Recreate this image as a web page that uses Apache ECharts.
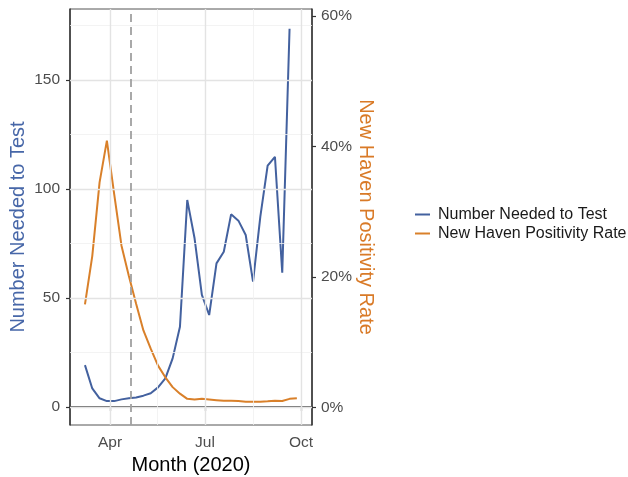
<!DOCTYPE html>
<html>
<head>
<meta charset="utf-8">
<script src="https://cdn.jsdelivr.net/npm/echarts@6/dist/echarts.min.js"></script>
<style>
html,body{margin:0;padding:0;background:#fff;}
#chart{width:628px;height:477px;}
</style>
</head>
<body>
<div id="chart"></div>
<script>
// Weekly dates
var weeks = ['2020-03-08','2020-03-15','2020-03-22','2020-03-29','2020-04-05','2020-04-12','2020-04-19','2020-04-26',
  '2020-05-03','2020-05-10','2020-05-17','2020-05-24','2020-05-31','2020-06-07','2020-06-14','2020-06-21','2020-06-28',
  '2020-07-05','2020-07-12','2020-07-19','2020-07-26','2020-08-02','2020-08-09','2020-08-16','2020-08-23','2020-08-30',
  '2020-09-06','2020-09-13','2020-09-20','2020-09-27'];
// Number needed to test (left axis)
var nntValues = [19.2, 8.5, 4.0, 2.7, 2.7, 3.5, 4.0, 4.4, 5.2, 6.3, 9.0, 13.1, 22.3, 36.8,
  95.0, 77.4, 51.4, 42.2, 65.9, 71.2, 88.4, 85.5, 78.9, 57.5, 87.3, 110.7, 114.8, 61.6, 173.5];
// New Haven positivity rate (right axis, fraction)
var posValues = [0.158, 0.232, 0.345, 0.409, 0.327, 0.248, 0.202, 0.159, 0.118, 0.090, 0.064, 0.046, 0.031, 0.021,
  0.013, 0.012, 0.013, 0.012, 0.011, 0.010, 0.010, 0.0097, 0.0087, 0.0087, 0.0087, 0.0092, 0.010, 0.0097, 0.013, 0.014];
// Ticks and guides
var leftTicks = [0, 50, 100, 150];
var leftMinor = [25, 75, 125, 175];
var rightTicks = [0, 0.2, 0.4, 0.6];
var monthTicks = ['2020-04-01', '2020-07-01', '2020-10-01'];
var monthLabels = ['Apr', 'Jul', 'Oct'];
var monthMinor = ['2020-05-16', '2020-08-16'];
var cutoffDate = '2020-04-21';
var xMinDate = '2020-02-22T16:00:00Z', xMaxDate = '2020-10-11T12:00:00Z';

var BLUE = '#43619f', ORANGE = '#d9802a';
function ts(d) { return Date.parse(d.length === 10 ? d + 'T00:00:00Z' : d); }
var tsTicks = monthTicks.map(ts);

function pairs(vals) { return vals.map(function (v, i) { return [ts(weeks[i]), v]; }); }

var gridMajor = '#e3e3e3', gridMinor = '#f0f0f0';
var guideLines = [];
leftTicks.forEach(function (v) { guideLines.push({ yAxis: v, lineStyle: { color: gridMajor, width: 1.4, type: 'solid' } }); });
leftMinor.forEach(function (v) { guideLines.push({ yAxis: v, lineStyle: { color: gridMinor, width: 0.8, type: 'solid' } }); });
monthTicks.forEach(function (d) { guideLines.push({ xAxis: ts(d), lineStyle: { color: gridMajor, width: 1.4, type: 'solid' } }); });
monthMinor.forEach(function (d) { guideLines.push({ xAxis: ts(d), lineStyle: { color: gridMinor, width: 0.8, type: 'solid' } }); });

var chart = echarts.init(document.getElementById('chart'), null, { renderer: 'canvas' });
var font = 'Liberation Sans, Arial, sans-serif';
chart.setOption({
  animation: false,
  backgroundColor: '#fff',
  textStyle: { fontFamily: font },
  grid: { left: 70, right: 316, top: 9, bottom: 52, containLabel: false, outerBoundsMode: 'none',
    show: true, borderColor: '#555', borderWidth: 1, backgroundColor: '#fff' },
  legend: {
    data: ['Number Needed to Test', 'New Haven Positivity Rate'],
    orient: 'vertical', left: 410, top: 200,
    icon: 'rect', itemWidth: 15, itemHeight: 2, itemGap: 0,
    textStyle: { fontSize: 16, color: '#1a1a1a', fontFamily: font, lineHeight: 19, padding: [0, 0, 0, 3] }
  },
  xAxis: {
    type: 'value',
    min: ts(xMinDate), max: ts(xMaxDate),
    name: 'Month (2020)', nameLocation: 'middle', nameGap: 30,
    nameTextStyle: { fontSize: 20, color: '#000', fontFamily: font },
    axisLine: { show: true, lineStyle: { color: '#333', width: 1.5 } },
    axisTick: { show: true, length: 4, lineStyle: { color: '#333', width: 1.2 }, customValues: tsTicks },
    axisLabel: {
      customValues: tsTicks, margin: 10, fontSize: 15.5, color: '#4d4d4d', fontFamily: font,
      formatter: function (v) { var i = tsTicks.indexOf(+v); return i >= 0 ? monthLabels[i] : ''; }
    },
    splitLine: { show: false }
  },
  yAxis: [{
    type: 'value', position: 'left', min: -8.26, max: 182.6,
    name: 'Number Needed to Test', nameLocation: 'middle', nameGap: 42,
    nameTextStyle: { fontSize: 20, color: '#4767a8', fontFamily: font, padding: [0, 20, 0, 0] },
    axisLine: { show: true, lineStyle: { color: '#333', width: 1.5 } },
    axisTick: { show: true, length: 4, lineStyle: { color: '#333', width: 1.2 }, customValues: leftTicks },
    axisLabel: { customValues: leftTicks, margin: 10, fontSize: 15.5, color: '#4d4d4d', fontFamily: font },
    splitLine: { show: false }
  }, {
    type: 'value', position: 'right', min: -0.0271, max: 0.611,
    name: 'New Haven Positivity Rate', nameLocation: 'middle', nameGap: 43, nameRotate: -90,
    nameTextStyle: { fontSize: 20, color: '#d97a27', fontFamily: font },
    axisLine: { show: true, lineStyle: { color: '#333', width: 1.5 } },
    axisTick: { show: true, length: 4, lineStyle: { color: '#333', width: 1.2 }, customValues: rightTicks },
    axisLabel: {
      customValues: rightTicks, margin: 9, fontSize: 15.5, color: '#4d4d4d', fontFamily: font,
      formatter: function (v) { return Math.round(v * 100) + '%'; }
    },
    splitLine: { show: false }
  }],
  series: [{
    name: 'guides', type: 'line', z: 0, silent: true, yAxisIndex: 0,
    data: pairs(nntValues), showSymbol: false, lineStyle: { opacity: 0 },
    markLine: { silent: true, symbol: 'none', label: { show: false }, animation: false, data: guideLines }
  }, {
    name: 'Number Needed to Test', type: 'line', yAxisIndex: 0, z: 3,
    data: pairs(nntValues), showSymbol: false, symbol: 'none',
    lineStyle: { color: BLUE, width: 2 }, itemStyle: { color: BLUE },
    markLine: {
      silent: true, symbol: 'none', label: { show: false }, animation: false,
      data: [{ xAxis: ts(cutoffDate) }],
      lineStyle: { color: '#a0a0a0', width: 1.8, type: [8, 5] }
    }
  }, {
    name: 'New Haven Positivity Rate', type: 'line', yAxisIndex: 1, z: 3,
    data: pairs(posValues), showSymbol: false, symbol: 'none',
    lineStyle: { color: ORANGE, width: 2 }, itemStyle: { color: ORANGE }
  }]
});
</script>
</body>
</html>
